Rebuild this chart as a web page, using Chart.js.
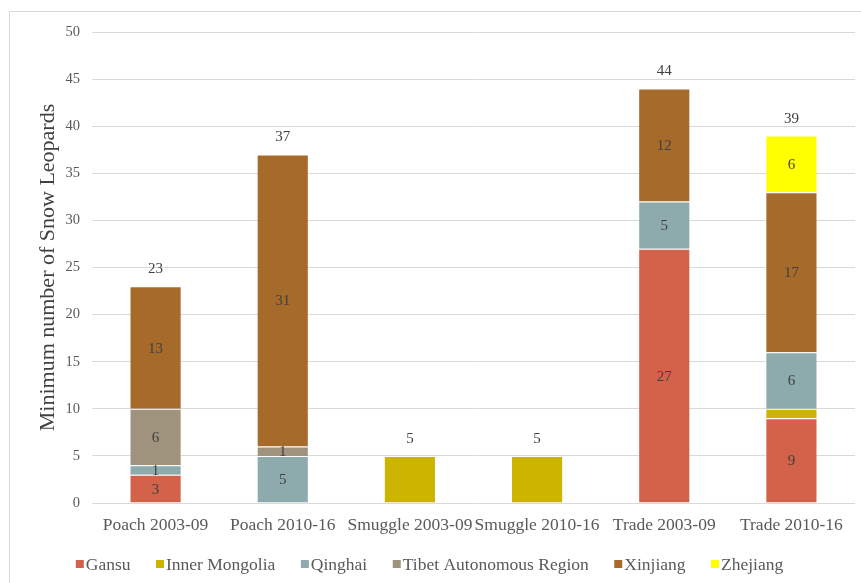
<!DOCTYPE html>
<html>
<head>
<meta charset="utf-8">
<script src="https://cdn.jsdelivr.net/npm/chart.js@4/dist/chart.umd.min.js"></script>
<style>
  html, body { margin: 0; padding: 0; background: #ffffff; }
  #wrap { width: 861px; height: 583px; position: relative; }
</style>
</head>
<body>
<div id="wrap"><canvas id="c" width="861" height="583"></canvas></div>
<script>
const categories = ["Poach 2003-09", "Poach 2010-16", "Smuggle 2003-09", "Smuggle 2010-16", "Trade 2003-09", "Trade 2010-16"];
const gansu         = [3, 0, 0, 0, 27, 9];
const innerMongolia = [0, 0, 5, 5, 0, 1];
const qinghai       = [1, 5, 0, 0, 5, 6];
const tibet         = [6, 1, 0, 0, 0, 0];
const xinjiang      = [13, 31, 0, 0, 12, 17];
const zhejiang      = [0, 0, 0, 0, 0, 6];
const seriesNames = ["Gansu", "Inner Mongolia", "Qinghai", "Tibet Autonomous Region", "Xinjiang", "Zhejiang"];
const seriesValues = [gansu, innerMongolia, qinghai, tibet, xinjiang, zhejiang];
const seriesColors = ["#D2634A", "#CDB400", "#8DABAC", "#A0937D", "#A66B2B", "#FFFF00"];
const showInnerLabel = [true, false, true, true, true, true];
const yTicks = [0, 5, 10, 15, 20, 25, 30, 35, 40, 45, 50];

const SERIF = "'Liberation Serif', 'Times New Roman', serif";

const datasets = seriesNames.map((name, i) => ({
  label: name,
  data: seriesValues[i],
  backgroundColor: seriesColors[i],
  borderColor: 'rgba(255,255,255,0.22)',
  borderWidth: 1,
  barPercentage: 0.41,
  categoryPercentage: 1.0
}));

const decorPlugin = {
  id: 'decor',
  beforeDraw(chart) {
    const ctx = chart.ctx;
    ctx.save();
    ctx.strokeStyle = '#d9d9d9';
    ctx.lineWidth = 1;
    ctx.strokeRect(9.5, 11.5, 900, 600);
    ctx.restore();
  },
  afterDatasetsDraw(chart) {
    const ctx = chart.ctx;
    const yScale = chart.scales.y;
    ctx.save();
    ctx.textAlign = 'center';
    ctx.textBaseline = 'middle';
    ctx.fillStyle = '#404040';
    ctx.font = '15px ' + SERIF;
    chart.data.datasets.forEach((ds, di) => {
      if (!showInnerLabel[di]) return;
      const meta = chart.getDatasetMeta(di);
      meta.data.forEach((el, idx) => {
        const v = ds.data[idx];
        if (!v) return;
        const props = el.getProps(['x', 'y', 'base'], true);
        ctx.fillText(String(v), props.x, (props.y + props.base) / 2 + 1);
      });
    });
    // totals
    const meta0 = chart.getDatasetMeta(0);
    categories.forEach((c, idx) => {
      let total = 0;
      seriesValues.forEach(arr => total += arr[idx]);
      const x = meta0.data[idx].getProps(['x'], true).x;
      const y = yScale.getPixelForValue(total) - 17;
      ctx.fillText(String(total), x, y);
    });
    ctx.restore();
  },
  afterDraw(chart) {
    // legend
    const ctx = chart.ctx;
    ctx.save();
    ctx.font = '17.5px ' + SERIF;
    ctx.textBaseline = 'middle';
    ctx.textAlign = 'left';
    const box = 8, gapBT = 2, gapItem = 25.5;
    const widths = seriesNames.map(n => box + gapBT + ctx.measureText(n).width);
    const total = widths.reduce((a, b) => a + b, 0) + gapItem * (widths.length - 1);
    let x = 429.5 - total / 2;
    const cy = 564;
    seriesNames.forEach((n, i) => {
      ctx.fillStyle = seriesColors[i];
      ctx.fillRect(x, cy - box / 2, box, box);
      ctx.fillStyle = '#595959';
      ctx.fillText(n, x + box + gapBT, cy + 1);
      x += widths[i] + gapItem;
    });
    ctx.restore();
  }
};

new Chart(document.getElementById('c'), {
  type: 'bar',
  data: { labels: categories, datasets: datasets },
  options: {
    responsive: false,
    animation: false,
    layout: { padding: { top: 32, right: 6, left: 0, bottom: 0 } },
    plugins: {
      legend: { display: false },
      tooltip: { enabled: false }
    },
    scales: {
      x: {
        stacked: true,
        grid: { display: false, drawTicks: false },
        border: { display: false },
        ticks: {
          autoSkip: false, maxRotation: 0, minRotation: 0,
          color: '#595959',
          font: { family: SERIF, size: 17.5 },
          padding: 12
        },
        afterFit(scale) { scale.height = 80; }
      },
      y: {
        stacked: true,
        min: 0, max: 50,
        afterBuildTicks(scale) { scale.ticks = yTicks.map(v => ({ value: v })); },
        grid: { color: '#d9d9d9', lineWidth: 1, drawTicks: false },
        border: { display: false },
        ticks: {
          color: '#595959',
          font: { family: SERIF, size: 14.5 },
          padding: 12
        },
        title: {
          display: true,
          text: 'Minimum number of Snow Leopards',
          color: '#404040',
          font: { family: SERIF, size: 22 },
          padding: { top: 35, bottom: 0 }
        },
        afterFit(scale) { scale.width = 92; }
      }
    }
  },
  plugins: [decorPlugin]
});
</script>
</body>
</html>
